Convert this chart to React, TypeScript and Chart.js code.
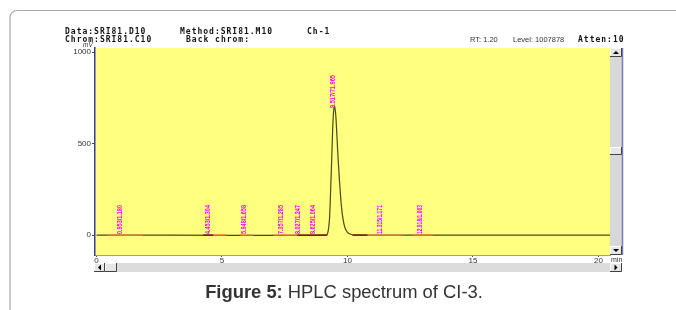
import React, { useEffect, useRef } from "react";
import { Chart, registerables } from "chart.js";
Chart.register(...registerables);

// chromatogram trace (min, mV)
const times = [0, 9.15, 9.22, 9.28, 9.33, 9.38, 9.43, 9.48, 9.53, 9.58, 9.63, 9.68, 9.75, 9.82, 9.9, 10.0, 10.1, 10.25, 20.46];
const signal = [0, 0, 15, 80, 250, 450, 640, 705, 660, 540, 410, 300, 170, 90, 40, 15, 6, 0, 0];

const xTickValues = [0, 5, 10, 15, 20];
const yTickValues = [0, 500, 1000];

const peakTimes = [0.93, 4.45, 5.88, 7.37, 8.03, 8.63, 11.3, 12.9];
const peakLabels = ["0.953/1.180", "4.453/1.304", "5.948/1.658", "7.357/1.285", "8.027/1.247", "8.625/1.064", "11.315/1.171", "12.918/1.063"];
const mainPeakTime = 9.43;
const mainPeakValue = 705;
const mainPeakLabel = "9.517/71.965";

const orangeSegments = [[0.45, 1.85], [4.65, 5.2], [5.7, 6.25], [7.05, 8.0], [10.8, 12.2], [12.6, 13.4]];
const darkSegments = [[4.25, 4.65], [8.0, 9.2], [10.2, 10.8]];

function drawButton(ctx: CanvasRenderingContext2D, x: number, y: number, w: number, h: number, arrow: string | null) {
  ctx.fillStyle = "#e6e6e6";
  ctx.fillRect(x, y, w, h);
  ctx.strokeStyle = "#ffffff";
  ctx.lineWidth = 1;
  ctx.beginPath();
  ctx.moveTo(x + 0.5, y + h);
  ctx.lineTo(x + 0.5, y + 0.5);
  ctx.lineTo(x + w, y + 0.5);
  ctx.stroke();
  ctx.strokeStyle = "#404040";
  ctx.beginPath();
  ctx.moveTo(x, y + h - 0.5);
  ctx.lineTo(x + w - 0.5, y + h - 0.5);
  ctx.lineTo(x + w - 0.5, y);
  ctx.stroke();
  if (!arrow) return;
  const cx = x + w / 2, cy = y + h / 2;
  ctx.fillStyle = "#000";
  ctx.beginPath();
  if (arrow === "up") { ctx.moveTo(cx - 3, cy + 1.5); ctx.lineTo(cx + 3, cy + 1.5); ctx.lineTo(cx, cy - 1.5); }
  else if (arrow === "down") { ctx.moveTo(cx - 3, cy - 1.5); ctx.lineTo(cx + 3, cy - 1.5); ctx.lineTo(cx, cy + 1.5); }
  else if (arrow === "left") { ctx.moveTo(cx + 1.5, cy - 3); ctx.lineTo(cx + 1.5, cy + 3); ctx.lineTo(cx - 1.5, cy); }
  else { ctx.moveTo(cx - 1.5, cy - 3); ctx.lineTo(cx - 1.5, cy + 3); ctx.lineTo(cx + 1.5, cy); }
  ctx.closePath();
  ctx.fill();
}

const decorPlugin = {
  id: "decor",
  beforeDraw(chart: any) {
    const ctx = chart.ctx as CanvasRenderingContext2D;
    const a = chart.chartArea;
    ctx.save();
    ctx.fillStyle = "#ffffff";
    ctx.fillRect(0, 0, chart.width, chart.height);
    // outer frame
    ctx.strokeStyle = "#a8a8a8";
    ctx.lineWidth = 1.2;
    ctx.beginPath();
    ctx.moveTo(10, 320);
    ctx.lineTo(10, 17);
    ctx.arcTo(10, 10.5, 17, 10.5, 7);
    ctx.lineTo(680, 10.5);
    ctx.stroke();
    // plot background
    ctx.fillStyle = "#ffff80";
    ctx.fillRect(a.left, a.top, a.right - a.left, a.bottom - a.top);
    // header texts
    ctx.fillStyle = "#111";
    ctx.font = "bold 8px 'DejaVu Sans Mono'";
    (ctx as any).letterSpacing = "1px";
    ctx.textBaseline = "alphabetic";
    ctx.textAlign = "left";
    ctx.fillText("Data:SRI81.D10", 65, 34);
    ctx.fillText("Chrom:SRI81.C10", 65, 41.5);
    ctx.fillText("Method:SRI81.M10", 180, 34);
    ctx.fillText("Back chrom:", 186, 41.5);
    ctx.fillText("Ch-1", 307, 34);
    ctx.fillText("Atten:10", 578, 42);
    (ctx as any).letterSpacing = "0px";
    ctx.fillStyle = "#333";
    ctx.font = "7.5px 'Liberation Sans'";
    ctx.fillText("RT: 1.20", 470, 42);
    ctx.fillText("Level: 1007878", 513, 42);
    ctx.font = "italic 6.5px 'Liberation Sans'";
    ctx.fillText("mV", 83, 46.5);
    ctx.font = "7px 'Liberation Sans'";
    ctx.fillText("min", 611, 262);
    // vertical scrollbar
    ctx.fillStyle = "#d8d8d8";
    ctx.fillRect(a.right, a.top, 12, a.bottom - a.top);
    ctx.strokeStyle = "#7878c0";
    ctx.lineWidth = 1.5;
    ctx.beginPath();
    ctx.moveTo(a.right + 12.5, a.top);
    ctx.lineTo(a.right + 12.5, a.bottom);
    ctx.stroke();
    drawButton(ctx, a.right, a.top, 12, 9, "up");
    drawButton(ctx, a.right, 147, 12, 8, null);
    drawButton(ctx, a.right, a.bottom - 9, 12, 9, "down");
    // horizontal scrollbar
    ctx.fillStyle = "#dcdcdc";
    ctx.fillRect(a.left - 1, 263, a.right + 13 - a.left, 9);
    drawButton(ctx, a.left - 1, 263, 11, 9, "left");
    drawButton(ctx, a.left + 10, 263, 12, 9, null);
    drawButton(ctx, a.right, 263, 12, 9, "right");
    // caption, fitted to the reference width
    ctx.fillStyle = "#333";
    ctx.font = "bold 17px 'Liberation Sans'";
    const w1 = ctx.measureText("Figure 5:").width;
    ctx.font = "17px 'Liberation Sans'";
    const w2 = ctx.measureText(" HPLC spectrum of CI-3.").width;
    const fs = 17 * 278 / (w1 + w2);
    ctx.font = `bold ${fs}px 'Liberation Sans'`;
    const v1 = ctx.measureText("Figure 5:").width;
    ctx.font = `${fs}px 'Liberation Sans'`;
    const v2 = ctx.measureText(" HPLC spectrum of CI-3.").width;
    const x0 = 344 - (v1 + v2) / 2;
    ctx.font = `bold ${fs}px 'Liberation Sans'`;
    ctx.fillText("Figure 5:", x0, 298);
    ctx.font = `${fs}px 'Liberation Sans'`;
    ctx.fillText(" HPLC spectrum of CI-3.", x0 + v1, 298);
    ctx.restore();
  },
  afterDatasetsDraw(chart: any) {
    const ctx = chart.ctx as CanvasRenderingContext2D;
    const xs = chart.scales.x;
    const ys = chart.scales.y;
    ctx.save();
    ctx.fillStyle = "#ff00ff";
    ctx.textBaseline = "middle";
    ctx.textAlign = "left";
    ctx.font = "bold 6.5px 'Liberation Sans'";
    const drawLabel = (t: number, base: number, text: string, len: number) => {
      const px = xs.getPixelForValue(t);
      const w = ctx.measureText(text).width;
      ctx.save();
      ctx.translate(px, base);
      ctx.rotate(-Math.PI / 2);
      ctx.scale(len / w, 1);
      ctx.fillText(text, 0, 0);
      ctx.restore();
    };
    const y0 = ys.getPixelForValue(0) - 1;
    peakTimes.forEach((t, i) => drawLabel(t, y0, peakLabels[i], 29));
    drawLabel(mainPeakTime, ys.getPixelForValue(mainPeakValue) + 2, mainPeakLabel, 33);
    ctx.restore();
  },
};

export default function App() {
  const ref = useRef<HTMLCanvasElement | null>(null);
  useEffect(() => {
    if (!ref.current) return;
    const seg = (s: number[][], color: string) =>
      s.map((p) => ({
        data: [{ x: p[0], y: 0 }, { x: p[1], y: 0 }],
        borderColor: color,
        borderWidth: 1.3,
        pointRadius: 0,
      }));
    const chart = new Chart(ref.current, {
      type: "line",
      data: {
        datasets: [
          ...seg(orangeSegments, "#ff7a3a"),
          ...seg(darkSegments, "#7a1010"),
          {
            data: times.map((t, i) => ({ x: t, y: signal[i] })),
            borderColor: "#4a4a14",
            borderWidth: 1.2,
            pointRadius: 0,
            tension: 0.3,
          },
        ],
      },
      options: {
        responsive: false,
        animation: false,
        events: [],
        layout: { padding: { top: 48, right: 66, bottom: 35, left: 0 } },
        plugins: { legend: { display: false }, tooltip: { enabled: false } },
        scales: {
          x: {
            type: "linear",
            min: -0.06,
            max: 20.46,
            afterBuildTicks: (s: any) => { s.ticks = xTickValues.map((v) => ({ value: v })); },
            afterFit: (s: any) => { s.height = 20; },
            grid: { drawOnChartArea: false, drawTicks: true, tickLength: 2, color: "#444" },
            border: { display: true, color: "#a0a0a0", width: 1 },
            ticks: { font: { size: 8, family: "'Liberation Sans'" }, color: "#333", padding: -1, maxRotation: 0, callback: (v: any) => String(v) },
          },
          y: {
            type: "linear",
            min: -109,
            max: 1022,
            afterBuildTicks: (s: any) => { s.ticks = yTickValues.map((v) => ({ value: v })); },
            afterFit: (s: any) => { s.width = 95; },
            grid: { drawOnChartArea: false, drawTicks: true, tickLength: 3, color: "#444" },
            border: { display: true, color: "#3a3aa8", width: 1.5 },
            ticks: { font: { size: 8, family: "'Liberation Sans'" }, color: "#333", padding: 1, callback: (v: any) => String(v) },
          },
        },
      },
      plugins: [decorPlugin],
    } as any);
    return () => chart.destroy();
  }, []);
  return (
    <div style={{ position: "absolute", left: 0, top: 0, width: 676, height: 310, background: "#fff" }}>
      <canvas ref={ref} width={676} height={310} style={{ display: "block" }} />
    </div>
  );
}
